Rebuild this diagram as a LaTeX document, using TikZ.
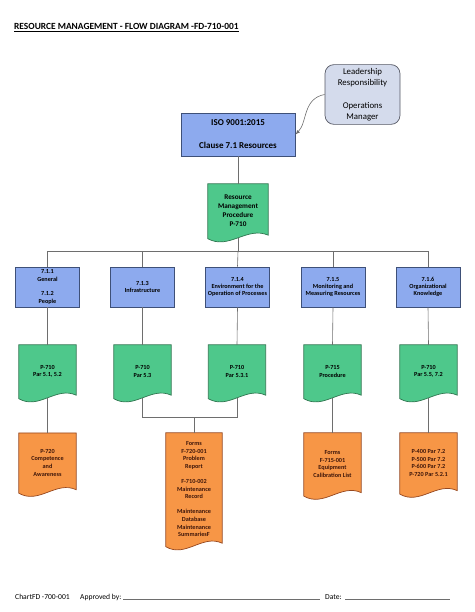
\documentclass[tikz,border=0pt]{standalone}
\usepackage{fontspec}
\setmainfont{Carlito}
\usetikzlibrary{backgrounds}
\usetikzlibrary{arrows}
\usetikzlibrary{calc}
\definecolor{linegrey}{RGB}{110,110,110}
\definecolor{leadfill}{RGB}{212,219,236}
\definecolor{leadedge}{RGB}{85,88,100}
\definecolor{clauseblue}{RGB}{141,170,238}
\definecolor{isoedge}{RGB}{62,80,120}
\definecolor{docgreen}{RGB}{78,200,139}
\definecolor{greenedge}{RGB}{48,118,80}
\definecolor{docorange}{RGB}{247,150,70}
\definecolor{orangeedge}{RGB}{150,72,32}
\definecolor{orangetext}{RGB}{62,22,10}
\tikzstyle{line}=[draw=linegrey, line width=0.6pt]
\tikzstyle{arrow}=[line, -latex]
\tikzstyle{footline}=[draw=linegrey, line width=0.5pt]
\tikzstyle{lead}=[rectangle, rounded corners=9pt, draw=leadedge, fill=leadfill, line width=0.7pt, minimum width=75pt, minimum height=57pt, align=center, font=\fontsize{8.8}{11.5}\selectfont]
\tikzstyle{iso}=[rectangle, draw=isoedge, fill=clauseblue, line width=0.8pt, minimum width=114pt, minimum height=43pt, align=center, font=\bfseries\fontsize{9}{11}\selectfont]
\tikzstyle{clause}=[rectangle, draw=isoedge, fill=clauseblue, line width=0.7pt, minimum width=64pt, minimum height=40pt, inner sep=1pt, align=center, font=\bfseries\fontsize{6.2}{7.4}\selectfont]
\tikzstyle{doc}=[rectangle, inner sep=1pt, align=center, minimum width=57pt, font=\bfseries\fontsize{6.2}{7.6}\selectfont]
\tikzstyle{greendoc}=[fill=docgreen, draw=greenedge, line width=0.7pt]
\tikzstyle{orangedoc}=[fill=docorange, draw=orangeedge, line width=0.7pt]
\tikzstyle{footer}=[anchor=base west, inner sep=0pt, font=\fontsize{7.6}{9}\selectfont]
% document shape drawn round a named node, wave crossing its south anchor
\newcommand{\docpath}[2]{%
  \begin{scope}[shift={(#1.south west)}, x={($(#1.south east)-(#1.south west)$)}]
    \draw[#2] (#1.north west) -- (#1.north east) -- (1,-2.6) .. controls (0.65,-11.9) and (0.35,12.5) .. (0,0.9) -- cycle;
  \end{scope}}
\begin{document}
\begin{tikzpicture}[x=1pt, y=-1pt]
	\useasboundingbox (0,0) rectangle (474,612);
	\draw (14,30) node[anchor=base west, inner sep=0pt, font=\bfseries\fontsize{9.4}{11}\selectfont] (title) {\underline{RESOURCE MANAGEMENT - FLOW DIAGRAM -FD-710-001}};
	%
	\draw (362.5,94.5) node[lead] (ldr) {Leadership\\Responsibility\\[11pt]Operations\\Manager};
	\draw (238,134.5) node[iso] (iso) {ISO 9001:2015\\[12pt]Clause 7.1 Resources};
	\draw (238,210.8) node[doc, minimum width=60pt, minimum height=53.6pt, font=\bfseries\fontsize{7.2}{9}\selectfont] (proc) {Resource\\Management\\Procedure\\P-710};
	%
	\draw (47.5,287) node[clause] (c711) {7.1.1\\General\\[7.5pt]7.1.2\\People};
	\draw (142.5,287) node[clause] (c713) {7.1.3\\Infrastructure};
	\draw (237.5,287) node[clause] (c714) {7.1.4\\Environment for the\\Operation of Processes};
	\draw (333,287) node[clause] (c715) {7.1.5\\Monitoring and\\Measuring Resources};
	\draw (428,287) node[clause] (c716) {7.1.6\\Organizational\\Knowledge};
	%
	\draw (47.5,371.3) node[doc, minimum height=52.6pt] (p711) {P-710\\Par 5.1, 5.2};
	\draw (142.5,371.3) node[doc, minimum height=52.6pt] (p713) {P-710\\Par 5.3};
	\draw (237,371.3) node[doc, minimum height=52.6pt] (p714) {P-710\\Par 5.3.1};
	\draw (332.5,371.3) node[doc, minimum height=52.6pt] (p715) {P-715\\Procedure};
	\draw (428.5,371.3) node[doc, minimum height=52.6pt] (p716) {P-710\\Par 5.5, 7.2};
	%
	\draw (47.5,462.6) node[doc, minimum height=59pt, text=orangetext] (f711) {P-720\\Competence\\and\\Awareness};
	\draw (194,489.3) node[doc, minimum width=56pt, minimum height=112.6pt, text=orangetext] (forms) {Forms\\F-720-001\\Problem\\Report\\[7.5pt]F-710-002\\Maintenance\\Record\\[7.5pt]Maintenance\\Database\\Maintenance\\SummariesF};
	\draw (332.5,464) node[doc, minimum height=62pt, text=orangetext] (f715) {Forms\\F-715-001\\Equipment\\Calibration List};
	\draw (428.5,463) node[doc, minimum height=60pt, text=orangetext] (f716) {P-400 Par 7.2\\P-500 Par 7.2\\P-600 Par 7.2\\P-720 Par 5.2.1};
	%
	\begin{scope}[on background layer]
		\docpath{proc}{greendoc}
		\docpath{p711}{greendoc}
		\docpath{p713}{greendoc}
		\docpath{p714}{greendoc}
		\docpath{p715}{greendoc}
		\docpath{p716}{greendoc}
		\docpath{f711}{orangedoc}
		\docpath{forms}{orangedoc}
		\docpath{f715}{orangedoc}
		\docpath{f716}{orangedoc}
	\end{scope}
	%
	\draw[arrow] (ldr.west) .. controls ($(ldr.west)+(-22,4)$) and ($(iso.east)+(12,-12)$) .. (iso.east);
	\draw[line] (iso.south) -- (proc.north);
	\coordinate (bus) at (238,251);
	\draw[line] (proc.south) -- (bus);
	\draw[line] (bus) -| (c711.north);
	\draw[line] (bus) -| (c713.north);
	\draw[line] (bus) -- (c714.north);
	\draw[line] (bus) -| (c715.north);
	\draw[line] (bus) -| (c716.north);
	%
	\draw[line] (c711.south) -- (p711.north);
	\draw[line] (c713.south) -- (p713.north);
	\draw[line] (c714.south) -- (p714.north);
	\draw[line] (c715.south) -- (p715.north);
	\draw[line] (c716.south) -- (p716.north);
	%
	\draw[line] (p711.south) -- (f711.north);
	\coordinate (join) at (194,417);
	\draw[line] (p713.south) |- (join);
	\draw[line] (p714.south) |- (join);
	\draw[line] (join) -- (forms.north);
	\draw[line] (p715.south) -- (f715.north);
	\draw[line] (p716.south) -- (f716.north);
	%
	\draw (15,599) node[footer] (chart) {ChartFD -700-001};
	\draw (80,599) node[footer] (appr) {Approved by:};
	\draw (325,599) node[footer] (date) {Date:};
	\draw[footline] (123,599) -- (320,599);
	\draw[footline] (345,599) -- (450,599);
\end{tikzpicture}
\end{document}
